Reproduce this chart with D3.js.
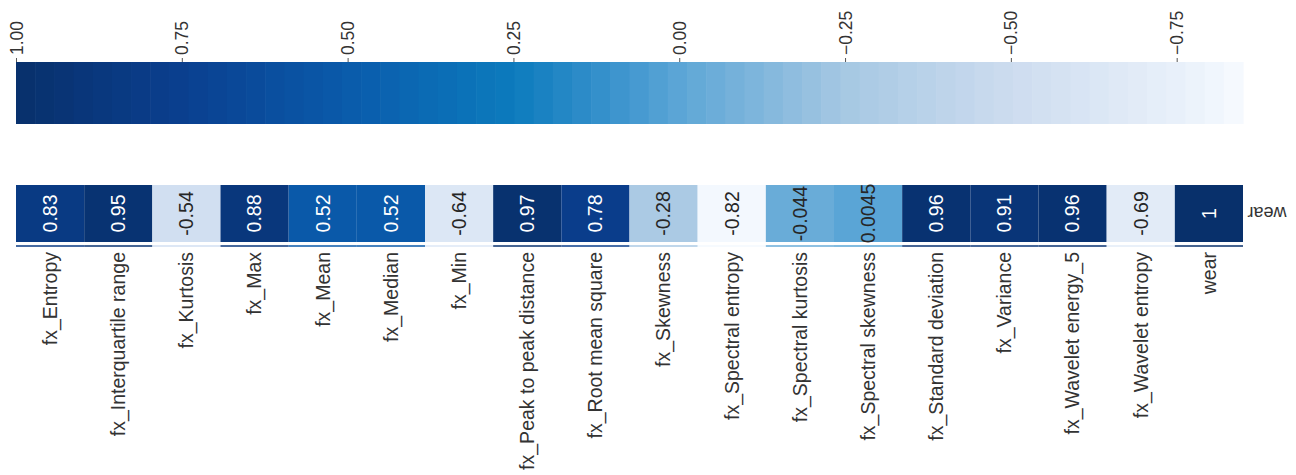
<!DOCTYPE html>
<html>
<head>
<meta charset="utf-8">
<script src="https://cdn.jsdelivr.net/npm/d3@7"></script>
<style>
  html, body { margin: 0; padding: 0; background: #fff; }
  svg { display: block; }
  text { font-family: "Liberation Sans", Arial, sans-serif; }
</style>
</head>
<body>
<svg id="chart" width="1296" height="475"></svg>
<script>
// ---- data ----
const categories = [
  "fx_Entropy", "fx_Interquartile range", "fx_Kurtosis", "fx_Max", "fx_Mean",
  "fx_Median", "fx_Min", "fx_Peak to peak distance", "fx_Root mean square",
  "fx_Skewness", "fx_Spectral entropy", "fx_Spectral kurtosis",
  "fx_Spectral skewness", "fx_Standard deviation", "fx_Variance",
  "fx_Wavelet energy_5", "fx_Wavelet entropy", "wear"
];
const values = [0.83, 0.95, -0.54, 0.88, 0.52, 0.52, -0.64, 0.97, 0.78,
  -0.28, -0.82, -0.044, 0.0045, 0.96, 0.91, 0.96, -0.69, 1];
const valueLabels = ["0.83", "0.95", "-0.54", "0.88", "0.52", "0.52", "-0.64",
  "0.97", "0.78", "-0.28", "-0.82", "-0.044", "0.0045", "0.96", "0.91", "0.96",
  "-0.69", "1"];
const rowLabel = "wear";
const colorbarTicks = [1.00, 0.75, 0.50, 0.25, 0.00, -0.25, -0.50, -0.75];
const colorDomain = [1.0, -0.85];
const colorStopValues = [1.00, 0.75, 0.50, 0.25, 0.10, 0.00, -0.25, -0.50, -0.75, -0.85];
const colorStopColors = ["#08306b", "#0a3f8f", "#0a5bab", "#0c7bbd", "#3a93cd",
  "#5ca6d6", "#a6c8e3", "#cddcef", "#e8f0fa", "#f7fbff"];

// ---- layout ----
const svg = d3.select("#chart");
const left = 16, right = 1243;
const cbTop = 62, cbBottom = 124;
const hmTop = 185, hmBottom = 242;

const color = d3.scaleLinear().domain(colorStopValues).range(colorStopColors)
  .interpolate(d3.interpolateRgb);

// colorbar
const cbX = d3.scaleLinear().domain(colorDomain).range([left, right]);
const nBands = 64;
const bands = d3.range(nBands).map(i => {
  const v0 = colorDomain[0] + (colorDomain[1] - colorDomain[0]) * i / nBands;
  const v1 = colorDomain[0] + (colorDomain[1] - colorDomain[0]) * (i + 1) / nBands;
  return { v0, v1, mid: (v0 + v1) / 2 };
});
svg.append("g").selectAll("rect").data(bands).join("rect")
  .attr("x", d => cbX(d.v0))
  .attr("width", d => cbX(d.v1) - cbX(d.v0) + 0.6)
  .attr("y", cbTop).attr("height", cbBottom - cbTop)
  .attr("fill", d => color(d.mid));

const cbAxis = d3.axisTop(cbX).tickValues(colorbarTicks).tickSize(4).tickPadding(3)
  .tickFormat(d => d3.format(".2f")(d).replace("-", "\u2212"));
const cbG = svg.append("g").attr("transform", `translate(0,${cbTop})`).call(cbAxis);
cbG.select(".domain").remove();
cbG.selectAll(".tick line").attr("stroke", "#555");
cbG.selectAll(".tick text")
  .attr("transform", "translate(0,-7) rotate(-90)")
  .attr("x", 0).attr("y", 0).attr("dy", "0.35em")
  .attr("text-anchor", "start")
  .attr("fill", "#333")
  .style("font-size", "17.5px")
  .style("font-family", "'Liberation Sans', Arial, sans-serif");

// heatmap
const x = d3.scaleBand().domain(categories).range([left, right]).padding(0);
const cells = svg.append("g");
cells.selectAll("rect.cell").data(categories).join("rect")
  .attr("class", "cell")
  .attr("x", d => x(d)).attr("width", x.bandwidth())
  .attr("y", hmTop).attr("height", hmBottom - hmTop)
  .attr("fill", (d, i) => color(values[i]));

// thin strip below cells
cells.selectAll("rect.strip").data(categories).join("rect")
  .attr("class", "strip")
  .attr("x", d => x(d)).attr("width", x.bandwidth())
  .attr("y", 245).attr("height", 2)
  .attr("fill", (d, i) => color(values[i])).attr("opacity", 0.75);

// annotations
cells.selectAll("text.val").data(categories).join("text")
  .attr("class", "val")
  .attr("transform", d => `translate(${x(d) + x.bandwidth() / 2},${(hmTop + hmBottom) / 2}) rotate(-90)`)
  .attr("text-anchor", "middle").attr("dy", "0.35em")
  .style("font-size", "19.5px")
  .attr("fill", (d, i) => d3.lab(color(values[i])).l < 55 ? "#ffffff" : "#262626")
  .text((d, i) => valueLabels[i]);

// column labels
const xAxis = d3.axisBottom(x).tickSize(0).tickPadding(0);
const xg = svg.append("g").attr("transform", "translate(0,252)").call(xAxis);
xg.select(".domain").remove();
xg.selectAll(".tick text")
  .attr("transform", "rotate(-90)")
  .attr("x", 0).attr("y", 0).attr("dy", "0.35em")
  .attr("text-anchor", "end")
  .attr("fill", "#333")
  .style("font-size", "19.5px")
  .style("font-family", "'Liberation Sans', Arial, sans-serif");

// row label (upside down)
svg.append("text")
  .attr("transform", `translate(1267,${(hmTop + hmBottom) / 2}) rotate(180)`)
  .attr("text-anchor", "middle").attr("dy", "0.35em")
  .attr("fill", "#333")
  .style("font-size", "18px")
  .text(rowLabel);
</script>
</body>
</html>
